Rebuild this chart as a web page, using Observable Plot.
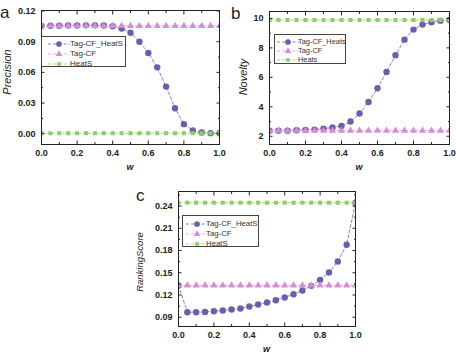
<!DOCTYPE html>
<html><head><meta charset="utf-8">
<script src="https://cdn.jsdelivr.net/npm/d3@7"></script>
<script src="https://cdn.jsdelivr.net/npm/@observablehq/plot@0.6"></script>
<style>
body{margin:0;background:#fff}
#fig{position:relative;width:456px;height:352px;overflow:hidden;font-family:"Liberation Sans",Arial,sans-serif;color:#222;background:#fff}
.p{position:absolute}
.t{position:absolute;white-space:nowrap;line-height:1}
.legend{position:absolute;border:1px solid #444;background:#fff;box-sizing:border-box}
.row{position:absolute;left:0;height:10px}
.row span{position:absolute;font-size:8px;line-height:10px;color:#333;white-space:nowrap}
</style></head><body><div id="fig"></div><script>
// ---- data ----
const w = [0, 0.05, 0.1, 0.15, 0.2, 0.25, 0.3, 0.35, 0.4, 0.45, 0.5, 0.55, 0.6, 0.65, 0.7, 0.75, 0.8, 0.85, 0.9, 0.95, 1.0];
const xTicks = [0, 0.2, 0.4, 0.6, 0.8, 1.0];
const xMinor = [0.1, 0.3, 0.5, 0.7, 0.9];

// panel a: Precision
const aTagCFHeatS = [0.1055, 0.1056, 0.1057, 0.1058, 0.1059, 0.1060, 0.1060, 0.1058, 0.1052, 0.1029, 0.0987, 0.0899, 0.0789, 0.0649, 0.0461, 0.0250, 0.0094, 0.0032, 0.0013, 0.0006, 0.0005];
const aTagCF = [0.1055, 0.1055, 0.1055, 0.1055, 0.1055, 0.1055, 0.1055, 0.1055, 0.1055, 0.1055, 0.1055, 0.1055, 0.1055, 0.1055, 0.1055, 0.1055, 0.1055, 0.1055, 0.1055, 0.1055, 0.1055];
const aHeatS = [0.0005, 0.0005, 0.0005, 0.0005, 0.0005, 0.0005, 0.0005, 0.0005, 0.0005, 0.0005, 0.0005, 0.0005, 0.0005, 0.0005, 0.0005, 0.0005, 0.0005, 0.0005, 0.0005, 0.0005, 0.0005];
const aTicks = [0, 0.03, 0.06, 0.09, 0.12];
const aMinor = [0.015, 0.045, 0.075, 0.105];

// panel b: Novelty
const bTagCFHeats = [2.38, 2.38, 2.38, 2.41, 2.43, 2.45, 2.52, 2.59, 2.70, 3.00, 3.54, 4.33, 5.26, 6.37, 7.50, 8.56, 9.24, 9.58, 9.74, 9.85, 9.90];
const bTagCF = [2.38, 2.38, 2.38, 2.38, 2.38, 2.38, 2.38, 2.38, 2.38, 2.38, 2.38, 2.38, 2.38, 2.38, 2.38, 2.38, 2.38, 2.38, 2.38, 2.38, 2.38];
const bHeats = [9.89, 9.89, 9.89, 9.89, 9.89, 9.89, 9.89, 9.89, 9.89, 9.89, 9.89, 9.89, 9.89, 9.89, 9.89, 9.89, 9.89, 9.89, 9.89, 9.89, 9.89];
const bTicks = [2, 4, 6, 8, 10];
const bMinor = [3, 5, 7, 9];

// panel c: RankingScore
const cTagCFHeatS = [0.1328, 0.0968, 0.0968, 0.0972, 0.0981, 0.0990, 0.1004, 0.1017, 0.1044, 0.1071, 0.1098, 0.1130, 0.1166, 0.1211, 0.1260, 0.1323, 0.1404, 0.1504, 0.1652, 0.1877, 0.2445];
const cTagCF = [0.1328, 0.1328, 0.1328, 0.1328, 0.1328, 0.1328, 0.1328, 0.1328, 0.1328, 0.1328, 0.1328, 0.1328, 0.1328, 0.1328, 0.1328, 0.1328, 0.1328, 0.1328, 0.1328, 0.1328, 0.1328];
const cHeatS = [0.2445, 0.2445, 0.2445, 0.2445, 0.2445, 0.2445, 0.2445, 0.2445, 0.2445, 0.2445, 0.2445, 0.2445, 0.2445, 0.2445, 0.2445, 0.2445, 0.2445, 0.2445, 0.2445, 0.2445, 0.2445];
const cTicks = [0.09, 0.12, 0.15, 0.18, 0.21, 0.24];
const cMinor = [0.105, 0.135, 0.165, 0.195, 0.225, 0.255];

// ---- styles ----
const PURPLE = "#6a5fae", PINK = "#dc8ad6", GREEN = "#8ccf64";
const styles = [
  {color: PURPLE, line: "#7d74c0", symbol: "circle", r: 3.2},
  {color: PINK, line: "#e2a0dc", symbol: "triangle", r: 2.7},
  {color: GREEN, line: "#9ad47a", symbol: "square", r: 2.3}
];

const fig = document.getElementById("fig");

function panel({left, top, width, height, margins, yDomain, yTicks, yMinor, yFmt, series}) {
  const marks = [];
  series.forEach((vals, i) => {
    const s = styles[i];
    const data = w.map((x, k) => ({x, y: vals[k]}));
    marks.push(Plot.line(data, {x: "x", y: "y", stroke: s.line, strokeWidth: 0.9, strokeDasharray: "3,2.2", clip: true}));
    marks.push(Plot.dot(data, {x: "x", y: "y", symbol: s.symbol, r: s.r, fill: s.color, stroke: "none", clip: true}));
  });
  const tickCommon = {stroke: "#222", label: null};
  marks.push(
    Plot.frame({stroke: "#222", strokeWidth: 1}),
    Plot.axisX({...tickCommon, anchor: "bottom", ticks: xTicks, tickSize: -3.5, tickPadding: 9, tickFormat: d3.format(".1f"), fontSize: 9, fontWeight: "bold", fill: "#222"}),
    Plot.axisX({...tickCommon, anchor: "bottom", ticks: xMinor, tickSize: -2, tickFormat: () => ""}),
    Plot.axisX({...tickCommon, anchor: "top", ticks: xTicks, tickSize: -3.5, tickFormat: () => ""}),
    Plot.axisX({...tickCommon, anchor: "top", ticks: xMinor, tickSize: -2, tickFormat: () => ""}),
    Plot.axisY({...tickCommon, anchor: "left", ticks: yTicks, tickSize: -3.5, tickPadding: 9.5, tickFormat: yFmt, fontSize: 9, fontWeight: "bold", fill: "#222"}),
    Plot.axisY({...tickCommon, anchor: "left", ticks: yMinor, tickSize: -2, tickFormat: () => ""}),
    Plot.axisY({...tickCommon, anchor: "right", ticks: yTicks, tickSize: -3.5, tickFormat: () => ""}),
    Plot.axisY({...tickCommon, anchor: "right", ticks: yMinor, tickSize: -2, tickFormat: () => ""})
  );
  const svg = Plot.plot({
    width, height, ...margins,
    x: {domain: [0, 1]},
    y: {domain: yDomain},
    style: {fontFamily: '"Liberation Sans", Arial, sans-serif', background: "transparent", overflow: "visible"},
    marks
  });
  svg.classList.add("p");
  svg.style.left = left + "px";
  svg.style.top = top + "px";
  fig.appendChild(svg);
}

function text(str, x, y, css, anchor = "center", rotate = null) {
  const d = document.createElement("div");
  d.className = "t";
  d.textContent = str;
  d.style.left = x + "px";
  d.style.top = y + "px";
  Object.assign(d.style, css);
  const tx = anchor === "center" ? "-50%" : anchor === "end" ? "-100%" : "0";
  d.style.transform = `translate(${tx},-50%)` + (rotate ? ` rotate(${rotate})` : "");
  fig.appendChild(d);
  return d;
}

function legend({left, top, width, height, rows, labels, segX, textX, fontSize}) {
  const box = document.createElement("div");
  box.className = "legend";
  Object.assign(box.style, {left: left + "px", top: top + "px", width: width + "px", height: height + "px"});
  labels.forEach((lab, i) => {
    const s = styles[i];
    const row = document.createElement("div");
    row.className = "row";
    row.style.top = (rows[i] - 5) + "px";
    row.style.width = width + "px";
    const ns = "http://www.w3.org/2000/svg";
    const svg = document.createElementNS(ns, "svg");
    svg.setAttribute("width", 26); svg.setAttribute("height", 10);
    svg.style.position = "absolute"; svg.style.left = (segX - 13) + "px"; svg.style.top = "0px";
    const ln = document.createElementNS(ns, "line");
    ln.setAttribute("x1", 2); ln.setAttribute("x2", 24); ln.setAttribute("y1", 5); ln.setAttribute("y2", 5);
    ln.setAttribute("stroke", s.line); ln.setAttribute("stroke-width", 0.9); ln.setAttribute("stroke-dasharray", "3,2.2");
    svg.appendChild(ln);
    const sym = {circle: d3.symbolCircle, triangle: d3.symbolTriangle, square: d3.symbolSquare}[s.symbol];
    const p = document.createElementNS(ns, "path");
    p.setAttribute("d", d3.symbol(sym, Math.PI * s.r * s.r * 0.8)());
    p.setAttribute("transform", "translate(13,5)");
    p.setAttribute("fill", s.color);
    svg.appendChild(p);
    row.appendChild(svg);
    const sp = document.createElement("span");
    sp.textContent = lab;
    sp.style.left = textX + "px";
    sp.style.fontSize = fontSize + "px";
    row.appendChild(sp);
    box.appendChild(row);
  });
  fig.appendChild(box);
}

// panel a
panel({left: 0, top: 0, width: 228, height: 176, margins: {marginLeft: 41, marginRight: 9, marginTop: 10, marginBottom: 32},
  yDomain: [-0.0105, 0.1205], yTicks: aTicks, yMinor: aMinor, yFmt: d3.format(".2f"), series: [aTagCFHeatS, aTagCF, aHeatS]});
// panel b
panel({left: 228, top: 0, width: 228, height: 176, margins: {marginLeft: 41, marginRight: 7, marginTop: 11, marginBottom: 32},
  yDomain: [1.44, 10.47], yTicks: bTicks, yMinor: bMinor, yFmt: d3.format("d"), series: [bTagCFHeats, bTagCF, bHeats]});
// panel c
panel({left: 137, top: 176, width: 228, height: 176, margins: {marginLeft: 41, marginRight: 10, marginTop: 15, marginBottom: 26},
  yDomain: [0.0775, 0.2596], yTicks: cTicks, yMinor: cMinor, yFmt: d3.format(".2f"), series: [cTagCFHeatS, cTagCF, cHeatS]});

// legends
legend({left: 41, top: 36, width: 85, height: 31, rows: [7.3, 17, 26.5], labels: ["Tag-CF_HeatS", "Tag-CF", "HeatS"], segX: 16.5, textX: 28, fontSize: 8});
legend({left: 274, top: 34, width: 72, height: 30, rows: [6.5, 15.5, 24.5], labels: ["Tag-CF_Heats", "Tag-CF", "Heats"], segX: 13, textX: 23, fontSize: 7.4});
legend({left: 182, top: 215, width: 77, height: 32, rows: [7.5, 17.8, 27.5], labels: ["Tag-CF_HeatS", "Tag-CF", "HeatS"], segX: 13.5, textX: 23, fontSize: 7.8});

// panel letters
text("a", 0, 12, {fontSize: "17px"}, "start");
text("b", 231, 13, {fontSize: "17px"}, "start");
text("c", 136, 195, {fontSize: "17px"}, "start");

// axis titles
const xt = {fontSize: "9px", fontWeight: "bold", fontStyle: "italic"};
text("w", 130, 167, xt);
text("w", 359, 167, xt);
text("w", 266.5, 349, xt);
text("Precision", 7, 72, {fontSize: "11px", fontStyle: "italic"}, "center", "-90deg");
text("Novelty", 243, 77, {fontSize: "11px", fontStyle: "italic"}, "center", "-90deg");
text("RankingScore", 140, 262, {fontSize: "9.5px", fontStyle: "italic"}, "center", "-90deg");
</script></body></html>
